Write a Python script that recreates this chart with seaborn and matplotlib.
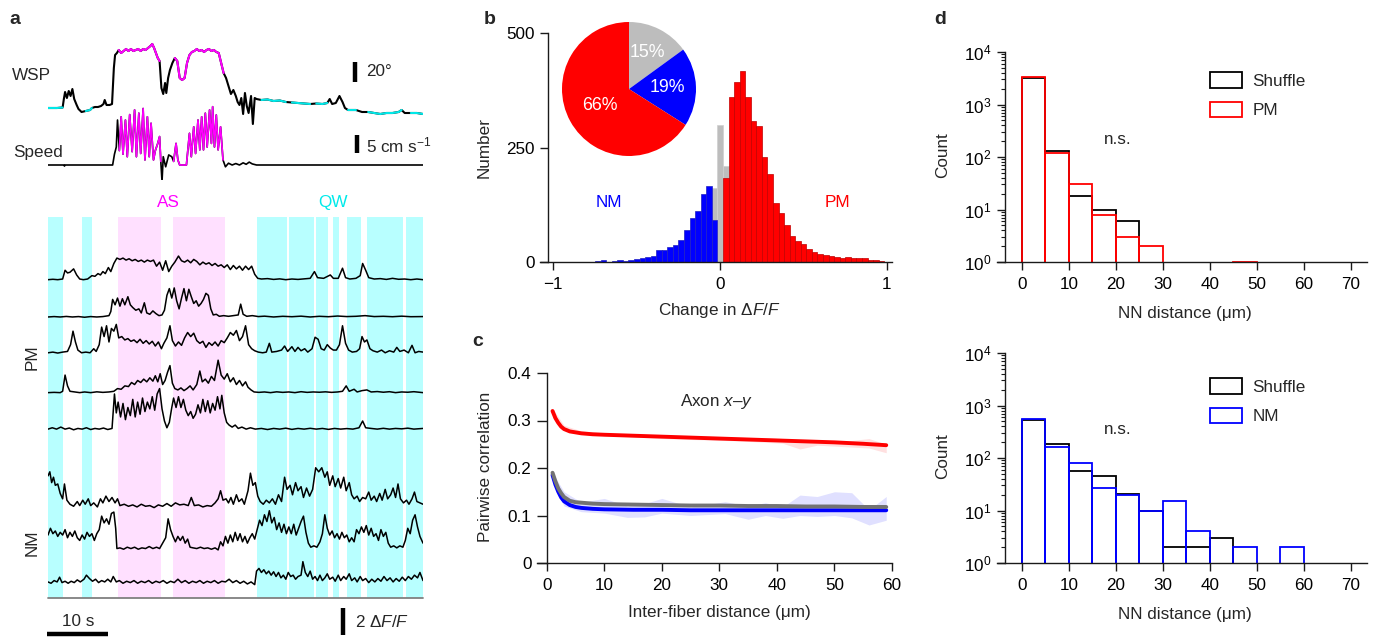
import numpy as np
import pandas as pd
import matplotlib
matplotlib.use('Agg')
import matplotlib.pyplot as plt
from matplotlib.patches import Patch
from matplotlib.ticker import LogLocator, NullFormatter
import seaborn as sns

# ------------------------------------------------------------------ data
# panel a : behavioural states (s)
qw_bands = [(0, 2.5), (5.6, 7.2), (34.3, 39.2), (39.5, 43.6), (43.9, 45.9),
            (46.7, 47.7), (49.0, 51.3), (52.3, 58.2), (58.7, 61.5)]
as_bands = [(11.5, 18.5), (20.5, 29.0)]

# whisker set point (deg, relative) and speed (cm/s): (time s, value)
wsp = [(0,0),(1.5,0),(2.4,0.5),(2.6,9),(2.8,16),(3.1,10),(3.4,17),(3.7,12),(4.0,19),(4.3,9),(4.7,3),
       (5.0,-1),(5.5,-4),(6.2,-3),(6.9,-2),(7.2,0),(7.7,1),(8.2,1),(8.7,2),(9.1,4),(9.3,8),(9.6,3),
       (10.1,3),(10.5,4),(10.8,40),(11.0,53),(11.3,55),(11.6,58),(12.0,55),(12.4,57),(12.8,59),
       (13.2,57),(13.6,59),(14.0,57),(14.4,58),(14.8,59),(15.2,57),(15.6,59),(16.0,58),(16.4,60),
       (16.8,62),(17.1,64),(17.4,60),(17.7,55),(18.0,50),(18.3,47),(18.6,20),(18.9,14),(19.2,25),
       (19.4,15),(19.7,30),(20.0,38),(20.4,45),(20.8,50),(21.2,47),(21.6,30),(22.0,28),(22.4,30),
       (22.8,45),(23.2,53),(23.6,56),(24.0,57),(24.4,59),(24.8,57),(25.2,58),(25.6,56),(26.0,58),
       (26.4,59),(26.8,57),(27.2,58),(27.6,56),(28.0,55),(28.4,45),(28.8,35),(29.2,30),(29.6,22),
       (30.0,14),(30.4,18),(30.8,12),(31.1,6),(31.4,3),(31.7,10),(32.0,-6),(32.3,15),(32.6,2),
       (32.9,-5),(33.3,12),(33.6,-16),(33.9,10),(34.2,9),(35,8),(36,8.5),(37,7),(38,7.5),(39,6),
       (40,5.5),(41,5),(42,4.5),(43,4),(44,4.5),(45,4),(45.8,5),(46.2,9),(46.6,4),(47.2,5),
       (47.8,12),(48.3,6),(48.7,0),(49.2,-2),(50.5,-2),(51.5,-4),(52.5,-4),(53.5,-5),(54.5,-6),
       (55.5,-5),(56.5,-5),(57.5,-4),(58.0,-2),(58.5,-5),(59.5,-5),(60.5,-5),(61.5,-6)]
speed = [(0,0),(2.6,0),(2.7,-0.3),(2.8,0),(7,0),(10.6,0),(10.9,3),(11.2,5),(11.4,12.5),(11.7,4),
         (12.0,13.4),(12.3,3),(12.7,12.5),(13.0,2.3),(13.4,14),(13.8,3.7),(14.2,15.3),(14.5,2.3),
         (14.9,14.4),(15.2,3.2),(15.6,15.7),(15.9,1.4),(16.3,13.4),(16.6,2.3),(16.9,11.6),(17.3,1.4),
         (17.6,4),(18.0,6),(18.3,7.9),(18.5,1),(18.7,-4.6),(18.9,2.3),(19.3,-0.5),(19.8,2.8),
         (20.3,2.3),(20.6,1),(21.0,6),(21.3,1.4),(21.6,0),(22.7,0),(23.2,8.8),(23.5,2.3),(23.9,10.6),
         (24.2,3.2),(24.6,12.5),(24.9,4.2),(25.2,13.4),(25.5,4.2),(25.8,14.4),(26.1,5),(26.5,15.3),
         (26.8,6),(27.0,16.2),(27.3,5),(27.6,13.9),(27.9,4.2),(28.3,10.6),(28.7,1.4),(29.1,-0.5),
         (29.6,0.5),(30.2,0),(30.8,0.4),(31.4,0),(32.0,0.6),(32.5,0.2),(33.0,0.8),(33.5,0.3),
         (34.2,0),(61.5,0)]

# dF/F traces (time s, dF/F)
pm1 = [(0,0),(0.8,0.03),(1.6,0),(2.4,0.05),(2.8,0.7),(3.2,0.5),(3.6,0.55),(4.2,0.8),(4.7,0.35),
       (5.2,0.05),(5.8,0.0),(6.5,0.05),(7.2,0.3),(7.7,0.25),(8.2,0.45),(8.6,0.35),(9.0,0.6),(9.4,0.45),
       (9.9,0.9),(10.3,0.6),(10.8,1.2),(11.3,1.6),(11.8,1.5),(12.3,1.6),(12.8,1.45),(13.3,1.55),
       (13.8,1.4),(14.3,1.5),(14.8,1.35),(15.3,1.45),(15.8,1.3),(16.3,1.45),(16.8,1.35),(17.3,1.45),
       (17.8,1.0),(18.3,1.3),(18.8,0.7),(19.3,1.4),(19.8,0.6),(20.3,1.0),(20.8,1.3),(21.4,1.75),
       (21.9,1.4),(22.4,1.3),(22.9,1.45),(23.4,1.25),(23.9,1.5),(24.4,1.35),(24.9,1.1),(25.4,1.3),
       (25.9,1.15),(26.4,1.25),(26.9,1.05),(27.4,1.2),(27.9,1.0),(28.4,1.1),(28.9,0.9),(29.4,1.1),
       (29.9,0.75),(30.4,1.05),(30.9,0.8),(31.4,1.0),(31.9,0.7),(32.4,1.0),(32.9,0.75),(33.4,1.0),
       (33.9,0.4),(34.4,0.1),(35,0.05),(36,0.08),(37,0.02),(38,0.06),(39,0.0),(40,0.05),(41,0.02),
       (42,0.06),(43,0.1),(43.7,0.6),(44.2,0.15),(45.2,0.1),(46.3,0.35),(46.8,0.1),(47.6,0.1),
       (48.3,0.85),(48.8,0.15),(49.5,0.05),(50.5,0.1),(51.2,0.3),(51.6,1.2),(52.1,0.7),(52.6,0.15),
       (53.5,0.05),(54.5,0.08),(55.5,0.02),(56.5,0.1),(57.5,0.03),(58.5,0.05),(59.5,0.0),(60.5,0.05),
       (61.5,0.0)]
pm2 = [(0,0),(1,0.03),(2,0),(3,0.04),(4,0),(5,0.03),(6,-0.02),(7,0.03),(8,0),(9,0.03),(10,0.1),
       (10.3,0.4),(10.6,1.3),(11.0,0.9),(11.4,1.4),(11.8,0.8),(12.2,1.35),(12.6,0.9),(13.1,1.5),
       (13.5,0.9),(13.9,0.7),(14.4,0.5),(14.9,0.6),(15.3,0.3),(15.8,1.05),(16.2,0.3),(16.7,0.2),
       (17.2,0.45),(17.7,0.25),(18.2,0.1),(18.7,0.15),(19.1,0.5),(19.5,1.6),(19.9,2.1),(20.3,1.4),
       (20.7,2.15),(21.1,1.2),(21.5,0.6),(21.9,1.4),(22.3,2.1),(22.7,1.2),(23.1,2.05),(23.5,1.5),
       (23.9,1.0),(24.3,1.2),(24.7,0.8),(25.1,1.0),(25.5,1.3),(25.9,1.75),(26.3,1.6),(26.7,0.6),
       (27.1,0.15),(27.6,0.2),(28.1,0.05),(28.8,0.1),(29.6,0.05),(30.4,0.1),(31.2,0.15),(31.6,0.95),
       (32.0,0.2),(32.6,0.05),(33.5,0.1),(34.5,0.03),(35.5,0.06),(37,0.0),(38.5,0.05),(40,0.02),
       (41.5,0.06),(43,0.0),(44.5,0.05),(46,0.02),(47.5,0.07),(49,0.03),(50.5,0.05),(52,0.1),
       (53.5,0.03),(55,0.05),(56.5,0.02),(58,0.06),(59.5,0.02),(61.5,0.03)]
pm3 = [(0,0),(0.8,0.05),(1.6,-0.02),(2.4,0.05),(3.2,0.1),(3.7,0.6),(4.1,1.6),(4.5,0.8),(4.9,0.2),
       (5.5,0.0),(6.2,0.05),(6.9,0.0),(7.5,0.3),(7.9,0.1),(8.4,0.6),(8.8,1.9),(9.2,1.2),(9.6,2.0),
       (10.0,0.8),(10.4,1.8),(10.8,1.6),(11.2,2.1),(11.6,1.1),(12.1,1.2),(12.6,0.95),(13.1,1.05),
       (13.6,0.85),(14.1,0.95),(14.6,0.75),(15.1,1.0),(15.6,0.7),(16.1,0.9),(16.6,0.65),(17.1,0.85),
       (17.6,0.5),(18.1,0.8),(18.6,0.3),(19.0,0.7),(19.5,1.1),(20.0,2.0),(20.4,0.9),(20.9,0.5),
       (21.4,0.8),(21.9,0.55),(22.4,1.1),(22.9,1.5),(23.4,1.2),(23.9,1.45),(24.4,0.9),(24.9,0.7),
       (25.4,0.85),(25.9,0.4),(26.4,0.75),(26.9,0.55),(27.4,0.8),(27.9,0.5),(28.4,0.9),(28.9,0.75),
       (29.4,1.1),(29.9,1.5),(30.4,1.3),(30.9,1.65),(31.4,0.9),(31.9,1.2),(32.4,2.0),(32.9,0.6),
       (33.4,0.3),(33.9,0.15),(34.5,0.05),(35.2,0.0),(35.8,0.05),(36.3,0.7),(36.7,0.05),(37.5,0.1),
       (38.3,0.2),(38.8,0.5),(39.3,0.1),(40.0,0.45),(40.5,0.1),(41.0,0.4),(41.5,0.15),(42.1,0.3),
       (42.6,0.05),(43.3,0.3),(43.8,1.15),(44.3,1.0),(44.8,0.3),(45.3,0.2),(45.8,0.6),(46.3,0.35),
       (46.8,0.2),(47.3,0.2),(47.8,0.6),(48.3,2.0),(48.8,0.7),(49.3,0.2),(49.9,0.05),(50.6,0.1),
       (51.1,0.3),(51.5,1.2),(51.9,0.8),(52.3,0.95),(52.8,0.3),(53.3,0.15),(54,0.05),(54.7,0.2),
       (55.3,0.0),(56,0.15),(56.7,0.05),(57.2,0.4),(57.7,0.1),(58.4,0.2),(59.1,0.0),(59.7,0.55),
       (60.2,0.0),(60.8,0.1),(61.5,0.05)]
pm4 = [(0,0),(1,0.02),(2,0),(2.4,0.1),(2.8,1.3),(3.2,0.5),(3.6,0.1),(4.4,0.05),(5.2,0.0),(6,0.05),
       (7,0.0),(8,0.06),(9,0.02),(10,0.05),(10.8,0.1),(11.4,0.3),(12.0,0.25),(12.6,0.5),(13.2,0.45),
       (13.7,0.75),(14.2,0.6),(14.7,0.9),(15.2,0.75),(15.7,1.0),(16.2,0.8),(16.7,1.1),(17.2,0.85),
       (17.6,1.25),(18.0,0.8),(18.4,1.4),(18.8,0.6),(19.2,0.9),(19.6,1.5),(20.0,2.0),(20.4,0.7),
       (20.8,0.3),(21.3,0.2),(21.8,0.35),(22.3,0.15),(22.8,0.3),(23.3,0.5),(23.8,0.2),(24.4,0.6),
       (24.9,1.6),(25.3,0.8),(25.8,1.0),(26.3,0.7),(26.8,1.2),(27.3,0.9),(27.9,2.4),(28.4,1.3),
       (28.9,1.0),(29.4,1.4),(29.9,0.8),(30.4,1.1),(30.9,0.6),(31.4,0.9),(31.9,0.5),(32.4,0.8),
       (32.8,0.4),(33.3,0.2),(33.8,0.05),(34.6,0.02),(35.5,0.05),(36.5,0.0),(37.5,0.06),(38.5,0.02),
       (39.5,0.05),(40.5,0.0),(41.5,0.07),(42.5,0.02),(43.5,0.05),(44.5,0.03),(45.5,0.06),(46.5,0.02),
       (47.5,0.05),(48.3,0.1),(48.9,0.5),(49.4,0.1),(50.2,0.25),(50.7,0.05),(51.5,0.15),(52.3,0.2),
       (53,0.05),(54,0.08),(55,0.03),(56,0.07),(57,0.0),(58,0.05),(59,0.03),(60,0.07),(61.5,0.0)]
pm5 = [(0,0),(0.7,0.1),(1.4,0.0),(2.1,0.15),(2.8,0.0),(3.5,0.08),(4.2,-0.05),(4.9,0.05),(5.6,0.0),
       (6.3,0.1),(7.0,-0.03),(7.7,0.05),(8.4,0.0),(9.1,0.08),(9.8,-0.03),(10.5,0.05),(10.9,2.6),
       (11.2,1.2),(11.5,2.0),(11.9,0.9),(12.3,1.9),(12.7,0.7),(13.1,1.6),(13.5,1.0),(13.9,2.2),
       (14.3,0.9),(14.7,2.0),(15.1,1.1),(15.5,2.3),(15.9,1.3),(16.3,2.0),(16.7,1.5),(17.1,2.4),
       (17.5,1.4),(17.9,2.6),(18.3,3.0),(18.7,1.5),(19.1,0.6),(19.5,0.1),(19.9,0.5),(20.3,1.6),
       (20.6,2.3),(21.0,1.6),(21.4,2.4),(21.8,1.6),(22.2,2.2),(22.6,1.4),(23.0,1.0),(23.4,1.3),
       (23.8,0.8),(24.2,1.1),(24.6,1.8),(25.0,1.2),(25.4,2.2),(25.8,1.3),(26.2,2.1),(26.6,1.2),
       (27.0,1.9),(27.4,1.4),(27.8,2.4),(28.2,1.5),(28.5,2.5),(28.9,1.2),(29.3,0.5),(29.7,0.3),
       (30.2,0.15),(30.7,0.3),(31.2,0.05),(31.8,0.15),(32.5,0.0),(33.2,0.1),(34,0.0),(35,0.05),
       (36,-0.03),(37,0.05),(38,0.0),(39,0.07),(40,-0.02),(41,0.05),(42,0.0),(43,0.06),(44,0.0),
       (45,0.05),(46,-0.02),(47,0.05),(48,0.0),(49,0.04),(50,0.0),(51,0.1),(51.6,0.6),(52.1,0.1),
       (53,0.05),(54,0.0),(55,0.06),(56,0.0),(57,0.05),(58,0.02),(59,0.07),(60,0.0),(61.5,0.05)]
nm1 = [(0,2.3),(0.3,2.6),(0.6,1.8),(0.9,2.2),(1.2,1.6),(1.6,1.7),(2.0,1.0),(2.4,0.6),(2.7,1.7),
       (3.1,0.5),(3.6,0.2),(4.2,0.05),(4.8,0.4),(5.2,0.1),(5.7,0.5),(6.1,0.2),(6.6,0.6),(7.0,0.1),
       (7.5,0.3),(8.1,0.0),(8.6,0.6),(9.0,0.3),(9.5,0.8),(10.0,0.4),(10.5,0.7),(11.0,0.3),(11.4,0.6),
       (11.8,0.1),(12.5,0.2),(13.2,0.05),(13.9,0.15),(14.6,0.0),(15.3,0.2),(16.0,0.05),(16.7,0.1),
       (17.4,-0.05),(18.1,0.15),(18.8,0.05),(19.5,0.25),(20.2,0.05),(20.9,0.3),(21.6,0.15),(22.3,0.2),
       (23.0,0.1),(23.5,0.7),(24.0,0.1),(24.7,0.15),(25.4,0.0),(26.1,0.1),(26.8,0.05),(27.4,0.3),
       (27.9,0.6),(28.3,1.2),(28.7,0.5),(29.2,0.6),(29.6,0.3),(30.0,0.7),(30.4,0.2),(30.9,0.9),
       (31.3,0.4),(31.8,0.6),(32.2,0.2),(32.8,1.2),(33.2,2.5),(33.6,1.6),(34.0,1.8),(34.4,0.8),
       (34.8,0.4),(35.3,0.2),(35.8,0.5),(36.3,0.3),(36.8,0.6),(37.3,0.2),(37.8,0.9),(38.3,0.4),
       (38.8,2.2),(39.2,1.3),(39.7,1.6),(40.1,0.9),(40.6,1.8),(41.0,1.2),(41.5,1.5),(41.9,0.7),
       (42.4,1.4),(42.9,0.8),(43.4,1.3),(43.9,2.9),(44.4,2.6),(44.9,2.9),(45.4,2.2),(45.8,2.6),
       (46.2,1.6),(46.7,2.3),(47.1,1.5),(47.6,2.1),(48.0,1.4),(48.5,2.2),(48.9,1.2),(49.4,1.8),
       (49.8,0.9),(50.2,0.6),(50.7,0.8),(51.1,0.4),(51.6,0.7),(52.1,0.6),(52.6,1.1),(53.0,0.5),
       (53.5,0.8),(53.9,0.4),(54.4,1.0),(54.8,0.5),(55.3,1.3),(55.7,0.6),(56.2,0.9),(56.6,1.4),
       (57.0,0.7),(57.4,1.7),(57.8,0.6),(58.3,0.3),(58.8,0.5),(59.2,0.2),(59.7,0.6),(60.1,1.1),
       (60.5,0.4),(61.0,0.3),(61.5,0.2)]
nm2 = [(0,1.1),(0.4,1.6),(0.8,1.2),(1.2,1.4),(1.6,1.0),(2.0,1.3),(2.4,1.1),(2.8,1.5),(3.2,0.9),
       (3.6,1.3),(4.0,1.0),(4.4,1.4),(4.8,0.9),(5.2,0.7),(5.6,1.1),(6.0,0.8),(6.4,1.3),(6.8,1.0),
       (7.2,1.2),(7.6,0.7),(8.0,1.2),(8.4,1.5),(8.8,2.5),(9.2,2.0),(9.6,2.3),(10.0,1.9),(10.4,2.7),
       (10.8,2.8),(11.1,1.6),(11.3,0.1),(11.8,0.15),(12.4,0.05),(13.0,0.2),(13.6,0.1),(14.2,0.2),
       (14.8,0.05),(15.4,0.15),(16.0,0.1),(16.6,0.25),(17.2,0.1),(17.8,0.2),(18.3,0.1),(18.8,0.5),
       (19.3,0.9),(19.7,2.3),(20.1,1.5),(20.5,1.0),(20.9,0.6),(21.3,1.0),(21.7,0.7),(22.1,1.0),
       (22.5,0.5),(22.9,0.8),(23.3,0.2),(23.8,0.15),(24.4,0.1),(25.0,0.2),(25.6,0.1),(26.2,0.15),
       (26.8,0.05),(27.4,0.15),(27.9,0.0),(28.3,0.6),(28.7,0.3),(29.1,1.0),(29.5,0.5),(29.9,1.1),
       (30.3,0.6),(30.7,1.3),(31.1,0.7),(31.5,1.2),(31.9,0.6),(32.3,1.0),(32.7,0.5),(33.1,0.9),
       (33.5,1.2),(33.9,0.8),(34.3,1.5),(34.7,2.2),(35.1,1.8),(35.5,2.6),(35.9,2.1),(36.3,2.9),
       (36.7,2.0),(37.1,2.4),(37.5,1.5),(37.9,2.0),(38.3,1.3),(38.7,1.9),(39.1,1.2),(39.5,1.7),
       (39.9,1.2),(40.3,1.9),(40.7,1.1),(41.1,1.6),(41.5,2.1),(41.9,2.5),(42.3,1.3),(42.7,0.5),
       (43.1,0.2),(43.6,0.3),(44.1,0.2),(44.6,0.6),(45.0,1.2),(45.4,2.6),(45.8,1.6),(46.2,1.1),
       (46.6,1.4),(47.0,0.9),(47.4,1.2),(47.8,0.8),(48.2,1.3),(48.6,0.9),(49.0,1.1),(49.4,0.6),
       (49.8,0.9),(50.2,0.6),(50.6,1.5),(51.0,1.2),(51.4,1.7),(51.8,1.3),(52.2,1.8),(52.6,1.1),
       (53.0,1.6),(53.4,1.0),(53.8,1.2),(54.2,0.7),(54.6,1.5),(55.0,1.0),(55.4,1.3),(55.8,0.5),
       (56.2,0.2),(56.7,0.3),(57.2,0.15),(57.7,0.3),(58.2,0.2),(58.6,0.7),(59.0,1.6),(59.4,1.2),
       (59.8,2.2),(60.2,2.6),(60.6,1.7),(61.0,1.0),(61.5,0.5)]
nm3 = [(0,0.1),(0.5,0.0),(1.0,0.2),(1.5,0.1),(1.9,0.45),(2.3,0.05),(2.8,0.15),(3.3,0.0),(3.8,0.15),
       (4.3,0.05),(4.8,0.25),(5.3,0.1),(5.9,0.3),(6.3,0.6),(6.8,0.35),(7.3,0.15),(7.8,0.3),(8.3,0.05),
       (8.8,0.2),(9.3,0.1),(9.8,0.3),(10.3,0.1),(10.7,0.5),(11.2,0.1),(11.7,0.2),(12.3,0.0),(12.9,0.15),
       (13.5,0.05),(14.1,0.2),(14.7,0.0),(15.3,0.15),(15.9,0.05),(16.5,0.2),(17.1,0.0),(17.7,0.15),
       (18.3,0.05),(18.9,0.2),(19.5,0.0),(20.1,0.15),(20.7,0.05),(21.3,0.3),(21.9,0.05),(22.5,0.2),
       (23.1,0.0),(23.7,0.15),(24.3,0.05),(24.9,0.2),(25.5,0.0),(26.1,0.15),(26.7,0.05),(27.3,0.2),
       (27.9,0.0),(28.5,0.15),(29.1,0.1),(29.7,0.3),(30.3,0.05),(30.9,0.2),(31.5,0.0),(32.1,0.15),
       (32.7,-0.05),(33.3,0.1),(33.9,-0.1),(34.2,0.9),(34.6,1.1),(35.0,0.8),(35.4,1.0),(35.8,0.7),
       (36.2,0.9),(36.6,0.6),(37.0,0.85),(37.4,0.5),(37.8,0.8),(38.2,0.4),(38.6,0.6),(39.0,0.3),
       (39.4,0.8),(39.8,0.5),(40.2,0.6),(40.6,0.3),(41.0,0.5),(41.5,0.6),(41.8,1.6),(42.2,0.8),
       (42.6,0.5),(43.0,0.9),(43.4,0.3),(43.8,0.5),(44.2,0.2),(44.6,0.6),(45.0,0.2),(45.4,0.4),
       (45.8,0.7),(46.2,0.3),(46.7,0.45),(47.1,0.15),(47.6,0.6),(48.0,0.2),(48.5,0.5),(48.9,0.3),
       (49.4,0.7),(49.8,0.2),(50.3,0.4),(50.7,0.1),(51.2,0.5),(51.6,0.2),(52.1,0.35),(52.6,0.05),
       (53.1,0.3),(53.6,0.1),(54.1,0.35),(54.6,0.15),(55.1,0.5),(55.6,0.2),(56.1,0.4),(56.6,0.1),
       (57.1,0.35),(57.6,0.15),(58.1,0.45),(58.6,0.2),(59.1,0.5),(59.6,0.3),(60.1,0.6),(60.6,0.4),
       (61.0,0.8),(61.5,0.2)]
pm_traces = [pm1, pm2, pm3, pm4, pm5]
nm_traces = [nm1, nm2, nm3]

# panel b : histogram counts (bin width 1/30) and pie fractions
nm_counts = [1, 1, 2, 4, 1, 3, 4, 3, 4, 7, 9, 12, 14, 27, 27, 33, 38, 47, 70, 97, 111, 149, 167, 91]   # -0.8 .. -0.033
pm_counts = [184, 361, 394, 416, 360, 307, 298, 230, 193, 129, 108, 81, 57, 45, 39, 28, 21, 17, 15,
             13, 11, 9, 12, 9, 9, 9, 5, 4, 2, 1]                                                  # 0.033 .. 1.0
nonmod_counts = [161, 300, 209]                                                                   # -0.033, 0, 0.033
pie_values = [15, 19, 66]

# panel c : pairwise correlation vs distance
dist = [1, 1.5, 2, 2.5, 3, 4, 5, 6, 8, 10, 15, 20, 25, 30, 35, 40, 45, 50, 55, 59]
corr_pm = [0.32, 0.305, 0.295, 0.287, 0.282, 0.277, 0.275, 0.273, 0.271, 0.270, 0.268, 0.266, 0.264,
           0.262, 0.260, 0.258, 0.256, 0.254, 0.251, 0.248]
corr_shuffle = [0.19, 0.172, 0.157, 0.147, 0.139, 0.131, 0.128, 0.127, 0.125, 0.124, 0.123, 0.122,
                0.121, 0.121, 0.12, 0.12, 0.119, 0.119, 0.118, 0.118]
corr_nm = [0.185, 0.165, 0.15, 0.138, 0.13, 0.122, 0.118, 0.116, 0.114, 0.113, 0.112, 0.112, 0.111,
           0.111, 0.111, 0.111, 0.111, 0.111, 0.111, 0.111]
dist_band = [1, 3, 6, 10, 14, 17, 20, 25, 31, 35, 38, 41, 44, 47, 50, 53, 56, 59]
nm_hi = [0.19, 0.15, 0.128, 0.136, 0.12, 0.125, 0.136, 0.118, 0.129, 0.12, 0.127, 0.118, 0.143, 0.14,
         0.15, 0.148, 0.112, 0.14]
nm_lo = [0.17, 0.12, 0.108, 0.105, 0.096, 0.097, 0.105, 0.100, 0.104, 0.092, 0.1, 0.094, 0.1, 0.098,
         0.1, 0.095, 0.08, 0.09]
pm_hi = [0.325, 0.29, 0.278, 0.274, 0.271, 0.27, 0.269, 0.267, 0.266, 0.264, 0.264, 0.262, 0.26,
         0.259, 0.257, 0.258, 0.262, 0.25]
pm_lo = [0.315, 0.285, 0.272, 0.268, 0.266, 0.264, 0.262, 0.26, 0.258, 0.256, 0.254, 0.252, 0.24,
         0.248, 0.246, 0.244, 0.242, 0.232]

# panel d : NN distance histograms (bins of 5 um, 0..70)
nn_shuffle_pm = [3200, 132, 18, 10, 6, 0, 0, 0, 0, 0, 0, 0, 0, 0]
nn_pm = [3280, 117, 30, 8, 3, 2, 0, 0, 0, 1, 0, 0, 0, 0]
nn_shuffle_nm = [540, 182, 57, 46, 21, 10, 2, 2, 3, 0, 0, 0, 0, 0]
nn_nm = [548, 165, 81, 27, 20, 10, 15, 4, 0, 2, 0, 2, 0, 0]

# ------------------------------------------------------------------ style
sns.set_theme(style='ticks')
FS = 12.3
plt.rcParams['font.family'] = ['Liberation Sans', 'DejaVu Sans']
plt.rcParams.update({
    'mathtext.fontset': 'custom', 'mathtext.rm': 'Liberation Sans',
    'mathtext.it': 'Liberation Sans:italic', 'mathtext.bf': 'Liberation Sans:bold',
    'font.size': FS, 'xtick.labelsize': FS, 'ytick.labelsize': FS, 'axes.labelsize': FS,
    'axes.edgecolor': '#1a1a1a', 'axes.linewidth': 1.0,
    'xtick.color': '#1a1a1a', 'ytick.color': '#1a1a1a', 'xtick.labelcolor': 'black',
    'ytick.labelcolor': 'black', 'xtick.major.width': 1.0, 'ytick.major.width': 1.0,
    'xtick.major.size': 6, 'ytick.major.size': 6, 'ytick.minor.size': 3, 'ytick.minor.width': 0.8,
})
RED, BLUE, GRAY = '#ff0000', '#0000ff', '#bdbdbd'
MAG, CYAN = '#ff00ff', '#00e8e8'
MAG_BG, CYAN_BG = '#ffe0ff', '#b8ffff'

W, H = 1377, 638
fig = plt.figure(figsize=(W / 100, H / 100), dpi=100)


def rect(l, t, w, h):
    return [l / W, 1 - (t + h) / H, w / W, h / H]


def ftext(x, y, s, **kw):
    kw.setdefault('fontsize', FS)
    kw.setdefault('va', 'center')
    fig.text(x / W, 1 - y / H, s, **kw)


def draw_trace(ax, pts, offset=0.0, lw=1.0, color_bands=()):
    t = np.array([p[0] for p in pts], dtype=float)
    v = np.array([p[1] for p in pts], dtype=float) + offset
    sns.lineplot(x=t, y=v, ax=ax, color='black', lw=lw, estimator=None, sort=False)
    for bands, col in color_bands:
        for a, b in bands:
            m = (t >= a) & (t <= b)
            if m.sum() > 1:
                sns.lineplot(x=t[m], y=v[m], ax=ax, color=col, lw=lw, estimator=None, sort=False)


def hist(ax, centers, counts, edges, **kw):
    df = pd.DataFrame({'x': np.asarray(centers, dtype=float), 'w': np.asarray(counts, dtype=float)})
    sns.histplot(data=df, x='x', weights='w', bins=list(edges), ax=ax, **kw)


# ------------------------------------------------------------------ panel a
T_END = 61.5
pm_offsets = [23.56, 20.8, 18.15, 15.2, 12.5]
nm_offsets = [6.74, 3.56, 1.09]

axT = fig.add_axes(rect(48, 217, 375, 381))
axT.set_xlim(0, T_END)
axT.set_ylim(0, 28.2)
for a, b in qw_bands:
    axT.axvspan(a, b, color=CYAN_BG, lw=0, zorder=0)
for a, b in as_bands:
    axT.axvspan(a, b, color=MAG_BG, lw=0, zorder=0)
for pts, off in zip(pm_traces, pm_offsets):
    draw_trace(axT, pts, off, lw=1.1)
for pts, off in zip(nm_traces, nm_offsets):
    draw_trace(axT, pts, off, lw=1.1)
axT.set_axis_off()
axT.axhline(0, color='#808080', lw=1.3, clip_on=False)
axT.plot([-0.16, 9.84], [-2.67, -2.67], color='black', lw=3.2, clip_on=False, solid_capstyle='butt')
axT.plot([48.4, 48.4], [-0.74, -2.74], color='black', lw=3.2, clip_on=False, solid_capstyle='butt')

axW = fig.add_axes(rect(48, 40, 375, 85))
axW.set_xlim(0, T_END)
axW.set_ylim(-17, 68)
draw_trace(axW, wsp, lw=1.5, color_bands=[(as_bands, MAG), (qw_bands, CYAN)])
axW.plot([50.35, 50.35], [26, 46], color='black', lw=3.2, solid_capstyle='butt')
axW.set_axis_off()

axS = fig.add_axes(rect(48, 100, 375, 80))
axS.set_xlim(0, T_END)
axS.set_ylim(-15 / 3.6, 65 / 3.6)
draw_trace(axS, speed, lw=1.2, color_bands=[(as_bands, MAG), (qw_bands, CYAN)])
axS.plot([50.7, 50.7], [3.33, 8.33], color='black', lw=3.2, solid_capstyle='butt')
axS.set_axis_off()

ftext(15, 20, 'a', fontsize=14, fontweight='bold', ha='center')
ftext(12, 76, 'WSP')
ftext(13, 152, 'Speed')
ftext(366, 72, '20°')
ftext(366, 145, r'5 cm s$^{\mathregular{-1}}$')
ftext(168, 203, 'AS', color=MAG, ha='center')
ftext(333, 203, 'QW', color='#00eaea', ha='center')
ftext(32, 357, 'PM', rotation=90, ha='center')
ftext(32, 543, 'NM', rotation=90, ha='center')
ftext(78, 622, '10 s', ha='center')
ftext(355, 622, r'2 Δ$F/F$')

# ------------------------------------------------------------------ panel b
axB = fig.add_axes(rect(540, 33, 352, 229))
edges_b = (np.arange(-30, 32) - 0.5) / 30
nm_x = np.arange(-24, 0) / 30
pm_x = np.arange(1, 31) / 30
nonmod_x = np.arange(-1, 2) / 30
hist(axB, nonmod_x, nonmod_counts, edges_b, color=GRAY, alpha=1, edgecolor='#d0d0d0', linewidth=0.5)
hist(axB, nm_x, nm_counts, edges_b, color=BLUE, alpha=1, edgecolor='#2020c0', linewidth=0.5)
hist(axB, pm_x, pm_counts, edges_b, color=RED, alpha=1, edgecolor='#c00000', linewidth=0.5)
for p in axB.patches:
    if p.get_height() == 0:
        p.set_visible(False)
axB.set_xlim(-1.08, 1.03)
axB.set_ylim(0, 500)
axB.spines['left'].set_position(('data', -1.032))
axB.spines[['top', 'right']].set_visible(False)
axB.set_xticks([-1, 0, 1])
axB.set_yticks([0, 250, 500])
axB.tick_params(axis='x', pad=5)
axB.set_xlabel(r'Change in Δ$F/F$')
axB.set_ylabel('Number')
axB.xaxis.label.set_va('center')
axB.yaxis.label.set_va('center')
axB.xaxis.set_label_coords(0.511, -0.213)
axB.yaxis.set_label_coords(-0.159, 0.50)
axB.text(-0.67, 130, 'NM', color=BLUE, ha='center', va='center', fontsize=FS)
axB.text(0.7, 130, 'PM', color=RED, ha='center', va='center', fontsize=FS)
ftext(490, 20, 'b', fontsize=14, fontweight='bold', ha='center')

axP = fig.add_axes(rect(562, 22, 134, 134))
wedges, _, autotexts = axP.pie(pie_values, colors=[GRAY, BLUE, RED], startangle=90,
                               counterclock=False, autopct='%d%%', pctdistance=0.58,
                               wedgeprops=dict(linewidth=0, edgecolor='none'),
                               textprops=dict(color='white', fontsize=FS + 0.5))
for at, scale in zip(autotexts, [1.05, 0.98, 0.86]):
    x, y = at.get_position()
    at.set_position((x * scale, y * scale))
axP.set_xlim(-1, 1)
axP.set_ylim(-1, 1)
axP.set_aspect('equal')

# ------------------------------------------------------------------ panel c
axC = fig.add_axes(rect(537, 373, 355, 190))
axC.fill_between(dist_band, nm_lo, nm_hi, color=BLUE, alpha=0.12, lw=0)
axC.fill_between(dist_band, pm_lo, pm_hi, color=RED, alpha=0.12, lw=0)
sns.lineplot(x=dist, y=corr_pm, color=RED, lw=2.8, ax=axC)
sns.lineplot(x=dist, y=corr_nm, color=BLUE, lw=2.8, ax=axC)
sns.lineplot(x=dist, y=corr_shuffle, color='#737373', lw=2.8, ax=axC)
axC.set_xlim(-1.7, 60)
axC.set_ylim(0, 0.4)
axC.spines['left'].set_position(('data', 0))
axC.spines[['top', 'right']].set_visible(False)
axC.set_xticks(range(0, 61, 10))
axC.set_yticks([0, 0.1, 0.2, 0.3, 0.4])
axC.set_yticklabels(['0', '0.1', '0.2', '0.3', '0.4'])
axC.tick_params(axis='y', length=7, pad=4)
axC.tick_params(axis='x', pad=5)
axC.set_xlabel('Inter-fiber distance (μm)')
axC.set_ylabel('Pairwise correlation')
axC.xaxis.label.set_va('center')
axC.yaxis.label.set_va('center')
axC.xaxis.set_label_coords(0.513, -0.263)
axC.yaxis.set_label_coords(-0.146, 0.505)
axC.text(29.5, 0.34, r'Axon $x$–$y$', ha='center', va='center', fontsize=FS)
ftext(478, 342, 'c', fontsize=14, fontweight='bold', ha='center')

# ------------------------------------------------------------------ panel d
d_edges = np.arange(0, 71, 5)
d_centers = d_edges[:-1] + 2.5
panels_d = [(52, nn_shuffle_pm, nn_pm, RED, 'PM', 0.905, 140),
            (353, nn_shuffle_nm, nn_nm, BLUE, 'NM', 0.881, 430)]
for top, shuf, cnt, col, lab, leg_y, ns_y in panels_d:
    ax = fig.add_axes(rect(997, top, 370, 210))
    hist(ax, d_centers, shuf, d_edges, fill=False, color='black', linewidth=1.3)
    hist(ax, d_centers, cnt, d_edges, fill=False, color=col, linewidth=1.3)
    for p in ax.patches:
        if p.get_height() == 0:
            p.set_visible(False)
    ax.set_yscale('log')
    ax.set_ylim(1, 1e4)
    ax.set_xlim(-5.3, 73.4)
    ax.yaxis.set_minor_locator(LogLocator(base=10, subs=np.arange(2, 10)))
    ax.yaxis.set_minor_formatter(NullFormatter())
    ax.set_yticks([1, 10, 100, 1000, 10000])
    ax.spines['left'].set_position(('data', -3.6))
    ax.spines[['top', 'right']].set_visible(False)
    ax.set_xticks(range(0, 71, 10))
    ax.tick_params(axis='x', pad=5)
    ax.tick_params(axis='y', which='major', pad=4)
    ax.set_xlabel('NN distance (μm)')
    ax.set_ylabel('Count')
    ax.xaxis.label.set_va('center')
    ax.yaxis.label.set_va('center')
    ax.xaxis.set_label_coords(0.508, -0.243)
    ax.yaxis.set_label_coords(-0.146, 0.51)
    handles = [Patch(facecolor='white', edgecolor='black', lw=1.3),
               Patch(facecolor='white', edgecolor=col, lw=1.3)]
    ax.legend(handles, ['Shuffle', lab], loc='upper left', bbox_to_anchor=(0.576, leg_y),
              frameon=False, handlelength=1.87, handleheight=1.05, handletextpad=0.6,
              labelspacing=0.75, borderpad=0, borderaxespad=0, fontsize=FS)
    ftext(1118, ns_y, 'n.s.', ha='center')
ftext(940, 20, 'd', fontsize=14, fontweight='bold', ha='center')

fig.savefig('out.png', dpi=100)
